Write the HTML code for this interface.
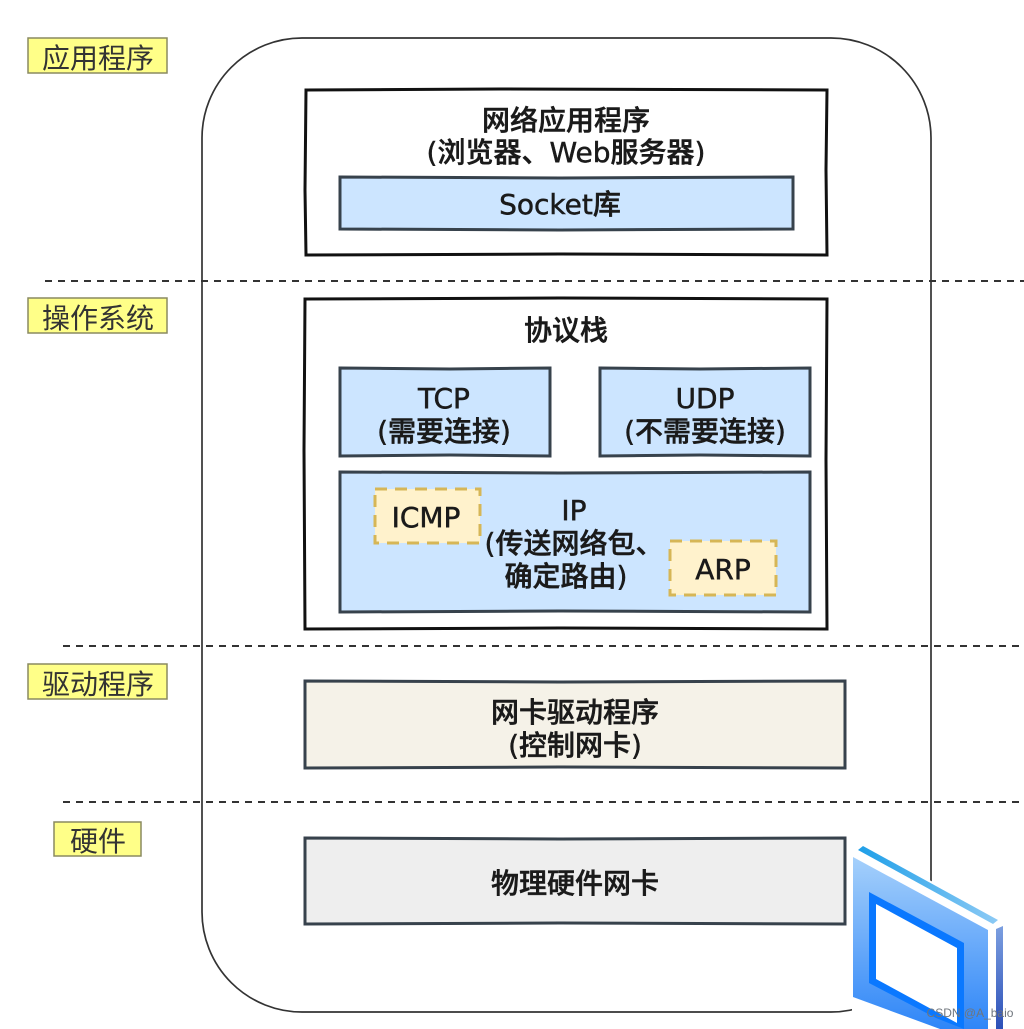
<!DOCTYPE html>
<html><head><meta charset="utf-8"><style>
html,body{margin:0;padding:0;background:#fff;width:1024px;height:1029px;overflow:hidden}
svg{display:block;filter:blur(0.35px)}
text{font-family:"DejaVu Sans","Noto Sans CJK SC",sans-serif;fill:#1a1a1a;text-anchor:middle}
.m{font-size:28px;font-weight:500;stroke:#1a1a1a;stroke-width:.5}
.l{font-family:"Liberation Sans","Noto Sans CJK SC",sans-serif;font-size:28px;font-weight:400;fill:#333}
.b{fill:none;stroke:#111;stroke-width:3}
.s{stroke:#37424c;stroke-width:3}
.d{fill:none;stroke:#333;stroke-width:2;stroke-dasharray:7 6}
.o{fill:#fff2cc;stroke:#d6b656;stroke-width:3;stroke-dasharray:12 8}
.y{fill:#ffff88;stroke:#8a8a60;stroke-width:1.5}
</style></head><body>
<svg width="1024" height="1029" viewBox="0 0 1024 1029" xmlns="http://www.w3.org/2000/svg">
<defs>
<linearGradient id="g" x1="0" y1="0" x2="0" y2="1"><stop offset="0" stop-color="#a5d0fb"/><stop offset="1" stop-color="#2f86f8"/></linearGradient>
<linearGradient id="t" x1="0" y1="0" x2="1" y2="0"><stop offset="0" stop-color="#1f9fe8"/><stop offset="1" stop-color="#8ccaf5"/></linearGradient>
<linearGradient id="r" x1="0" y1="0" x2="0" y2="1"><stop offset="0" stop-color="#7c9fe0"/><stop offset="1" stop-color="#2c50b8"/></linearGradient>
</defs>
<rect x="202" y="38" width="729" height="974" rx="100" ry="100" fill="none" stroke="#333" stroke-width="1.7"/>
<path class="d" d="M45 281H1024M63 646H1024M63 802H1024"/>

<rect class="y" x="28" y="38" width="139" height="35"/><text class="l" x="98" y="68">应用程序</text>
<rect class="y" x="28" y="298" width="139" height="35"/><text class="l" x="98" y="328">操作系统</text>
<rect class="y" x="28" y="664" width="139" height="35"/><text class="l" x="98" y="694">驱动程序</text>
<rect class="y" x="54" y="822" width="87" height="34"/><text class="l" x="98" y="851">硬件</text>

<path class="b" fill="#fff" d="M306 90L500 89L827 90L826 170L827 255L560 254L306 255L305 190Z"/>
<text class="m" x="566" y="130">网络应用程序</text>
<text class="m" x="566" y="162">(浏览器、Web服务器)</text>
<path class="s" fill="#cce5ff" d="M340 177L560 178L793 177L793 229L560 230L340 229Z"/>
<text class="m" x="560" y="214">Socket库</text>

<path class="b" d="M305 299L560 298L827 299L826 460L827 629L560 628L305 629L304 450Z"/>
<text class="m" x="566" y="340">协议栈</text>
<path class="s" fill="#cce5ff" d="M340 368L450 369L550 368L550 456L450 455L340 456Z"/>
<text class="m" x="444" y="408">TCP</text>
<text class="m" x="444" y="441">(需要连接)</text>
<path class="s" fill="#cce5ff" d="M600 368L700 369L810 368L810 456L700 455L600 456Z"/>
<text class="m" x="705" y="408">UDP</text>
<text class="m" x="705" y="441">(不需要连接)</text>
<path class="s" fill="#cce5ff" d="M340 472L560 473L810 472L810 612L560 611L340 612Z"/>
<rect class="o" x="375" y="489" width="105" height="54"/>
<text class="m" x="426" y="527">ICMP</text>
<text class="m" x="574" y="520">IP</text>
<text class="m" x="574" y="553">(传送网络包、</text>
<text class="m" x="566" y="586">确定路由)</text>
<rect class="o" x="670" y="541" width="106" height="54"/>
<text class="m" x="723" y="579">ARP</text>

<path class="s" fill="#f5f2e8" d="M305 681L560 682L845 681L845 768L560 767L305 768Z"/>
<text class="m" x="575" y="722">网卡驱动程序</text>
<text class="m" x="575" y="755">(控制网卡)</text>
<path class="s" fill="#eeeeee" d="M305 838L560 839L845 838L845 924L560 923L305 924Z"/>
<text class="m" x="575" y="893">物理硬件网卡</text>

<polygon points="852,851 860,843 1008,922 1008,1029 852,1029" fill="#fff"/>
<polygon points="858,850 863,846 998,920 993,924" fill="url(#t)"/>
<polygon points="853,857 988,930 988,1029 940,1029 853,997" fill="url(#g)"/>
<polygon points="869,892 964,943 964,1029 936,1018 869,983" fill="#0a78ff"/>
<polygon points="876,904 957,948 957,1023 876,979" fill="#fff"/>
<polygon points="996,929 1003,926 1003,1029 996,1029" fill="url(#r)"/>
<text x="970" y="1017" style="font-family:'Liberation Sans',sans-serif;font-size:12px;fill:#6f757c">CSDN @A_baio</text>
</svg>
</body></html>
